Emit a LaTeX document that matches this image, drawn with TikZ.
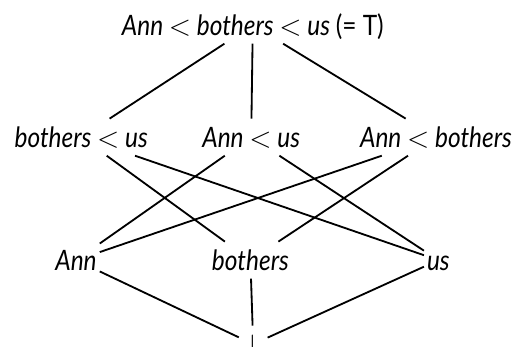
\documentclass[tikz,border=0pt]{standalone}
\usepackage{fontspec}
\setmainfont{Lato}[FakeStretch=0.87]
\usepackage{tikz}
\usetikzlibrary{positioning}
\tikzset{
	elem/.style ={inner xsep=2pt, inner ysep=5pt, text height=15pt, text depth=1pt,
		font=\fontsize{20}{24}\selectfont\itshape},
	cover/.style={line width=1.3pt, black},
}

\begin{document}
\begin{tikzpicture}
	\useasboundingbox (0,0) rectangle (12.925,8.65);
	% top element
	\node[elem, anchor=base] (top) at (6.32,7.775) {Ann $<$ bothers $<$ us {\upshape(= T)}};
	% middle row
	\node[elem, anchor=base] (bu) at (2.03,4.975)  {bothers $<$ us};
	\node[elem, anchor=base] (au) at (6.28,4.975)  {Ann $<$ us};
	\node[elem, anchor=base] (ab) at (10.9,4.975)  {Ann $<$ bothers};
	% single atoms
	\node[elem, anchor=base] (a) at (1.9,1.9)   {Ann};
	\node[elem, anchor=base] (b) at (6.26,1.9)  {bothers};
	\node[elem, anchor=base] (u) at (10.96,1.9) {us};
	% bottom element
	\node[elem, anchor=base] (bot) at (6.33,-0.2) {$\bot$};
	\draw[cover] (top) -- (bu);
	\draw[cover] (top) -- (au);
	\draw[cover] (top) -- (ab);
	\draw[cover] (bu) -- (b);
	\draw[cover] (bu) -- (u);
	\draw[cover] (au) -- (a);
	\draw[cover] (au) -- (u);
	\draw[cover] (ab) -- (a);
	\draw[cover] (ab) -- (b);
	\draw[cover] (a) -- (bot);
	\draw[cover] (b) -- (bot);
	\draw[cover] (u) -- (bot);
\end{tikzpicture}
\end{document}
